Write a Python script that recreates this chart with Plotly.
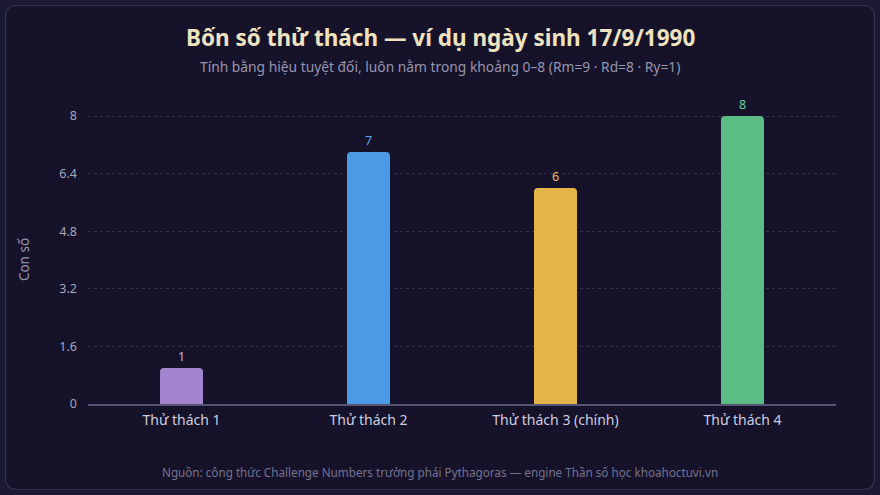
import plotly.graph_objects as go

categories = ["Thử thách 1", "Thử thách 2", "Thử thách 3 (chính)", "Thử thách 4"]
values = [1, 7, 6, 8]
bar_colors = ["#a385cf", "#4a9ae6", "#e5b449", "#5bbd83"]
label_colors = ["#c4b6e6", "#5aa8f0", "#f0c060", "#6fd49a"]
y_ticks = [0, 1.6, 3.2, 4.8, 6.4, 8]
y_tick_labels = ["0", "1.6", "3.2", "4.8", "6.4", "8"]

W, H = 880, 495
L, R, T, B = 88, 44, 115, 91
pw, ph = W - L - R, H - T - B
YMAX = 8.03

def px(x):
    return (x - L) / pw

def py(y):
    return (H - B - y) / ph

def rounded_rect(x0, y0, x1, y1, r):
    X0, X1 = px(x0), px(x1)
    Y0, Y1 = py(y0), py(y1)
    rx, ry = r / pw, r / ph
    return (f"M {X0+rx},{Y0} L {X1-rx},{Y0} Q {X1},{Y0} {X1},{Y0-ry} "
            f"L {X1},{Y1+ry} Q {X1},{Y1} {X1-rx},{Y1} L {X0+rx},{Y1} "
            f"Q {X0},{Y1} {X0},{Y1+ry} L {X0},{Y0-ry} Q {X0},{Y0} {X0+rx},{Y0} Z")

fig = go.Figure()
fig.add_trace(go.Bar(
    x=categories, y=values,
    marker=dict(color=bar_colors, line=dict(width=0), cornerradius=4),
    width=0.23,
    text=[str(v) for v in values],
    textposition="outside",
    textfont=dict(color=label_colors, size=12.5, family="Noto Sans"),
    cliponaxis=False,
    hoverinfo="skip",
))

fig.update_layout(
    width=W, height=H,
    margin=dict(l=L, r=R, t=T, b=B),
    paper_bgcolor="#1b1931",
    plot_bgcolor="rgba(0,0,0,0)",
    font=dict(family="Noto Sans", color="#a8a6bb"),
    showlegend=False,
    shapes=[dict(
        type="path", xref="paper", yref="paper",
        path=rounded_rect(5.5, 5.5, 874.5, 489.5, 12),
        fillcolor="#15122a", line=dict(color="#34314f", width=1.2),
        layer="below",
    )],
    annotations=[
        dict(text="<b>Bốn số thử thách — ví dụ ngày sinh 17/9/1990</b>",
             xref="paper", yref="paper", x=px(440), y=py(38),
             xanchor="center", yanchor="middle", showarrow=False,
             font=dict(size=22.5, color="#eee2bf", family="Noto Sans")),
        dict(text="Tính bằng hiệu tuyệt đối, luôn nằm trong khoảng 0–8 (Rm=9 · Rd=8 · Ry=1)",
             xref="paper", yref="paper", x=px(440), y=py(66),
             xanchor="center", yanchor="middle", showarrow=False,
             font=dict(size=13.8, color="#9896ae", family="Noto Sans")),
        dict(text="Nguồn: công thức Challenge Numbers trường phái Pythagoras — engine Thần số học khoahoctuvi.vn",
             xref="paper", yref="paper", x=px(440), y=py(472),
             xanchor="center", yanchor="middle", showarrow=False,
             font=dict(size=11.7, color="#76738f", family="Noto Sans")),
    ],
)

fig.update_xaxes(
    showgrid=False, zeroline=False,
    showline=True, linecolor="#57547a", linewidth=1.5,
    ticks="", tickfont=dict(size=14, color="#cfcde0"),
    ticklabelstandoff=2,
    fixedrange=True,
)
fig.update_yaxes(
    range=[0, YMAX], tickvals=y_ticks, ticktext=y_tick_labels,
    showgrid=True, gridcolor="#34314f", griddash="3px,3px", gridwidth=1,
    zeroline=False, showline=False, ticks="",
    tickfont=dict(size=12.5, color="#a8a6bb"),
    ticklabelstandoff=10,
    title=dict(text="Con số", font=dict(size=13.5, color="#9896ae"), standoff=26),
    fixedrange=True,
)

fig.write_html(
    "out.html",
    config={"displayModeBar": False},
    post_script="document.body.style.margin='0';document.body.style.background='#1b1931';",
)
